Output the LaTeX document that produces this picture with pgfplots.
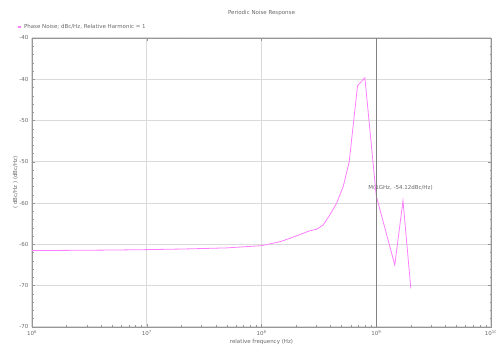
\documentclass[border=0pt]{standalone}
\usepackage{pgfplots}
\pgfplotsset{compat=1.18}
\usepackage{fontspec}
\setmainfont{DejaVu Sans}
\definecolor{pn}{RGB}{255,125,255}
\definecolor{txt}{RGB}{105,105,105}
\definecolor{grd}{RGB}{218,218,218}
\definecolor{frm}{RGB}{150,150,150}
\definecolor{mkr}{RGB}{130,130,130}

% phase noise vs. offset frequency (Hz, dBc/Hz)
\pgfplotstableread{
f       pn
1e6     -60.75
2e6     -60.72
5e6     -60.68
1e7     -60.63
2e7     -60.56
5e7     -60.42
1e8     -60.15
1.45e8  -59.67
1.77e8  -59.26
2.31e8  -58.65
2.64e8  -58.34
3.02e8  -58.17
3.44e8  -57.65
3.94e8  -56.44
4.51e8  -55.02
5.15e8  -53.00
5.81e8  -50.00
6.87e8  -40.78
7.96e8  -39.81
1e9     -54.12
1.45e9  -62.49
1.71e9  -54.70
2e9     -65.31
}\pntable

\begin{document}
\begin{tikzpicture}
\useasboundingbox (-32pt,-18pt) rectangle (464pt,327pt);
\begin{axis}[
  at={(0,0)}, anchor=south west,
  scale only axis, width=459pt, height=289pt,
  xmode=log, xmin=1e6, xmax=1e10,
  ymin=-70, ymax=-35,
  xtick={1e6,1e7,1e8,1e9,1e10},
  xticklabels={10\textsuperscript{6},10\textsuperscript{7},10\textsuperscript{8},10\textsuperscript{9},10\textsuperscript{10}},
  ytick={-70,-65,-60,-55,-50,-45,-40,-35},
  yticklabels={-70,-70,-60,-60,-50,-50,-40,-40},
  minor y tick num=4,
  grid=major,
  major grid style={grd, line width=1.1pt},
  axis line style={frm, line width=0.8pt},
  every tick/.style={frm, line width=0.5pt},
  major tick length=3pt, minor tick length=1.5pt,
  tick label style={font=\fontsize{5.5}{6}\selectfont, text=txt},
  label style={font=\fontsize{5.5}{6}\selectfont, text=txt},
  xlabel={relative frequency (Hz)},
  xlabel style={at={(axis description cs:0.5,0)}, anchor=center, yshift=-15pt},
  ylabel={( dBc/Hz ) (dBc/Hz)},
  ylabel style={at={(axis description cs:-0.036,0.5)}, anchor=center},
  legend style={at={(axis description cs:-0.033,1)}, anchor=west, yshift=11pt,
    draw=none, fill=none, font=\fontsize{5.5}{6}\selectfont, text=txt,
    inner sep=0pt, legend cell align=left},
  legend image code/.code={\draw[#1, line width=2pt] (0pt,0pt) -- (3pt,0pt);},
  clip=false,
]
\addplot[pn, line width=0.8pt] table[x=f, y=pn] {\pntable};
\addlegendentry{Phase Noise; dBc/Hz, Relative Harmonic = 1}
% marker at 1 GHz
\draw[mkr, line width=1.3pt] (axis cs:1e9,-70) -- (axis cs:1e9,-35);
\node[font=\fontsize{5.5}{6}\selectfont, text=txt, anchor=west, inner sep=0pt,
  xshift=-8pt, yshift=8pt] at (axis cs:1e9,-54.12) {M(1GHz, -54.12dBc/Hz)};
\node[font=\fontsize{5.5}{6}\selectfont, text=txt, anchor=center]
  at (axis description cs:0.5,1) [yshift=25pt] {Periodic Noise Response};
\end{axis}
\end{tikzpicture}
\end{document}
